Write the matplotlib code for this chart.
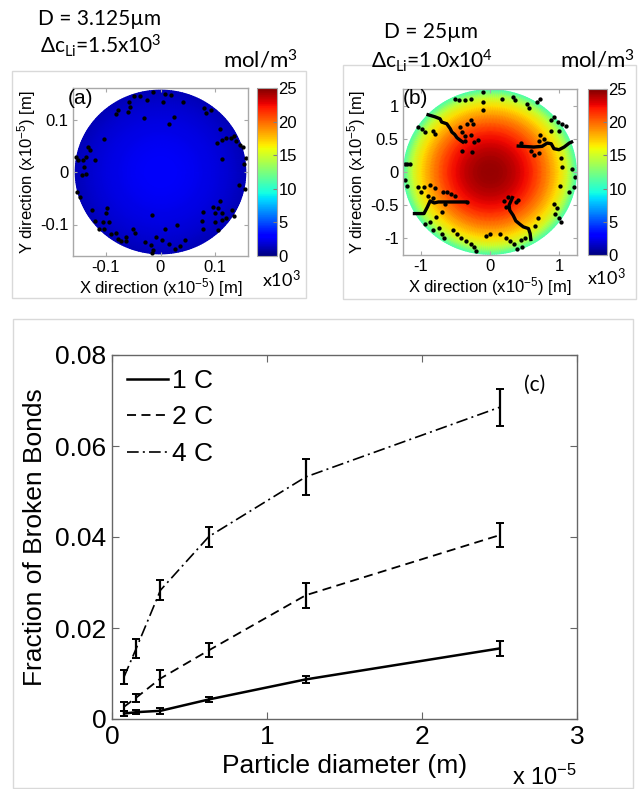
import numpy as np
import matplotlib
matplotlib.use("Agg")
import matplotlib.pyplot as plt
from matplotlib.patches import Rectangle

# ---------------- data ----------------
# (c) fraction of broken bonds vs particle diameter
diam_um = [0.78125, 1.5625, 3.125, 6.25, 12.5, 25.0]
frac_1c = [0.0012, 0.0015, 0.0018, 0.0043, 0.0087, 0.0155]
err_1c = [0.0006, 0.0005, 0.0007, 0.0006, 0.0007, 0.0016]
frac_2c = [0.0027, 0.0047, 0.0089, 0.0151, 0.0272, 0.0404]
err_2c = [0.0010, 0.0009, 0.0018, 0.0015, 0.0027, 0.0026]
frac_4c = [0.0093, 0.0155, 0.0283, 0.0401, 0.0532, 0.0685]
err_4c = [0.0015, 0.0020, 0.0022, 0.0022, 0.0040, 0.0041]
rate_labels = ["1 C", "2 C", "4 C"]

# (a)/(b) radial Li concentration profile (x10^3 mol/m^3)
r_frac = [0.0, 0.1, 0.2, 0.3, 0.4, 0.5, 0.6, 0.7, 0.8, 0.9, 1.0]
conc_a = [2.70, 2.68, 2.64, 2.56, 2.46, 2.33, 2.17, 1.98, 1.76, 1.52, 1.20]
conc_b = [24.5, 24.4, 24.0, 23.4, 22.5, 21.4, 20.1, 18.6, 16.8, 14.8, 11.0]
radius_a = 0.156   # x10^-5 m
radius_b = 1.25

# broken bond locations, panel (a)
bonds_a_x = [-0.049, -0.038, -0.025, -0.013, 0.009, 0.019, 0.041, -0.058, -0.056, -0.059,
             -0.078, -0.081, -0.031, 0.005, 0.025, 0.016, 0.079, 0.083, 0.092, 0.109,
             0.103, 0.113, 0.120, 0.128, 0.134, 0.138, 0.145, 0.151, 0.113, 0.156,
             0.153, 0.143, 0.155, 0.109, 0.096, 0.106, 0.100, 0.113, 0.131, 0.134,
             0.113, 0.100, 0.075, 0.078, 0.106, 0.077, 0.119, 0.031, 0.044, 0.036,
             0.009, -0.008, 0.003, 0.016, 0.026, -0.018, -0.013, -0.016, -0.029, -0.016,
             -0.097, -0.100, -0.094, -0.106, -0.119, -0.125, -0.113, -0.103, -0.091, -0.081,
             -0.078, -0.072, -0.063, -0.051, -0.047, -0.064, -0.154, -0.150, -0.141, -0.136,
             -0.128, -0.119, -0.103, -0.133, -0.139, -0.136, -0.144, -0.152, -0.147]
bonds_a_y = [0.144, 0.144, 0.137, 0.152, 0.149, 0.146, 0.134, 0.134, 0.124, 0.114,
             0.118, 0.111, 0.102, 0.134, 0.104, 0.092, 0.121, 0.112, 0.118, 0.081,
             0.056, 0.061, 0.064, 0.064, 0.069, 0.059, 0.052, 0.047, 0.025, 0.027,
             0.016, -0.025, -0.033, -0.056, -0.066, -0.069, -0.078, -0.078, -0.072, -0.084,
             -0.092, -0.096, -0.094, -0.108, -0.111, -0.077, -0.088, -0.100, -0.129, -0.141,
             -0.109, -0.123, -0.129, -0.138, -0.146, -0.139, -0.148, -0.154, -0.133, -0.081,
             -0.069, -0.078, -0.096, -0.096, -0.094, -0.073, -0.108, -0.109, -0.119, -0.116,
             -0.127, -0.131, -0.123, -0.109, -0.116, -0.131, 0.029, 0.022, 0.022, 0.029,
             0.041, 0.022, 0.063, 0.048, 0.009, -0.003, -0.006, -0.038, -0.048]

# broken bond locations, panel (b)
bonds_b_x = [-0.512, -0.443, -0.365, -0.281, -0.108, -0.108, -0.099, 0.177, 0.335, 0.360,
             0.542, 0.571, 0.680, 0.729, -1.044, -0.985, -0.946, -0.823, -0.798, -0.429,
             -0.330, -0.281, -0.246, -0.404, -0.355, -0.281, -0.355, -0.232, -0.167, -0.404,
             -0.266, 0.877, 0.926, 0.985, 1.049, 1.099, 0.877, 1.005, 0.729, 0.788,
             0.704, 0.443, 0.591, 0.640, 0.709, 1.025, 1.049, 1.182, 1.236, 1.212,
             1.148, 1.015, -1.231, -1.202, -1.163, -1.235, -1.202, -1.044, -0.995, -0.956,
             -0.872, -0.798, -0.897, -0.823, -0.675, -0.616, -0.571, -0.502, -0.330, -0.650,
             -0.700, -0.788, -0.872, -0.946, -0.823, -0.739, -0.690, -0.660, -0.542, -0.473,
             -0.414, -0.345, -0.276, -0.227, -0.197, -0.059, 0.000, 0.138, 0.236, 0.296,
             0.345, 0.394, 0.463, 0.443, 0.512, 0.926, 0.966, 0.936, 1.005, 1.034,
             0.655, 0.690, 0.197, 0.236, 0.266, 0.374, 0.404]
bonds_b_y = [1.106, 1.086, 1.086, 1.111, 1.212, 1.061, 0.934, 1.106, 1.136, 1.086,
             1.035, 0.975, 1.061, 1.111, 0.682, 0.652, 0.606, 0.621, 0.571, 0.682,
             0.732, 0.783, 0.722, 0.606, 0.540, 0.556, 0.470, 0.455, 0.490, 0.318,
             0.303, 0.783, 0.833, 0.753, 0.722, 0.692, 0.621, 0.621, 0.556, 0.505,
             0.470, 0.439, 0.318, 0.253, 0.288, 0.217, 0.076, 0.051, -0.076, -0.227,
             -0.303, -0.217, 0.126, 0.116, 0.126, -0.126, -0.207, -0.227, -0.303, -0.227,
             -0.202, -0.237, -0.359, -0.389, -0.303, -0.308, -0.338, -0.359, -0.455, -0.490,
             -0.611, -0.682, -0.758, -0.793, -0.884, -0.843, -0.944, -0.995, -0.884, -0.944,
             -0.995, -1.045, -1.096, -1.146, -1.197, -0.965, -0.934, -0.944, -0.995, -1.045,
             -1.096, -1.167, -1.136, -1.035, -0.995, -0.480, -0.540, -0.631, -0.692, -0.763,
             -0.813, -0.692, -0.439, -0.530, -0.379, -0.449, -0.419]

# connected cracks, panel (b)
crack1_x = [-0.897, -0.798, -0.724, -0.700, -0.626, -0.576, -0.552, -0.512, -0.478, -0.429, -0.394]
crack1_y = [0.869, 0.838, 0.808, 0.758, 0.732, 0.657, 0.606, 0.571, 0.520, 0.480, 0.455]
crack2_x = [0.409, 0.631, 0.754, 0.828, 0.887, 0.926, 1.000, 1.074, 1.148, 1.182]
crack2_y = [0.394, 0.379, 0.389, 0.439, 0.429, 0.354, 0.338, 0.379, 0.439, 0.455]
crack3_x = [-1.094, -0.956, -0.906, -0.867, -0.808, -0.749, -0.552, -0.355]
crack3_y = [-0.631, -0.631, -0.530, -0.439, -0.470, -0.455, -0.455, -0.455]
crack4_x = [0.325, 0.276, 0.286, 0.335, 0.374, 0.433, 0.483, 0.557, 0.581, 0.591]
crack4_y = [-0.389, -0.505, -0.581, -0.657, -0.742, -0.793, -0.833, -0.859, -0.934, -1.025]

# ---------------- style ----------------
plt.rcParams["font.family"] = ["Liberation Sans", "DejaVu Sans"]
plt.rcParams["mathtext.default"] = "regular"
plt.rcParams["axes.unicode_minus"] = False
ANN = ["Lato", "DejaVu Sans"]
W, H = 643, 789


def box(l, t, r, b):
    """pixel box -> figure fraction rect"""
    return [l / W, 1 - b / H, (r - l) / W, (b - t) / H]


def fx(x):
    return x / W


def fy(y):
    return 1 - y / H


fig = plt.figure(figsize=(W / 100, H / 100), dpi=100)

# light panel frames
for l, t, r, b in [(12, 71, 306, 298), (343, 65, 636, 299), (13, 319, 633, 788)]:
    x0, y0, w, h = box(l, t, r, b)
    fig.patches.append(Rectangle((x0, y0), w, h, transform=fig.transFigure,
                                 fill=False, edgecolor="#d9d9d9", linewidth=1))


def draw_disc(ax, radius, conc):
    r = np.array(r_frac) * radius
    th = np.linspace(0, 2 * np.pi, 241)
    R, T = np.meshgrid(r, th)
    C = np.tile(conc, (len(th), 1))
    return ax.pcolormesh(R * np.cos(T), R * np.sin(T), C, cmap="jet",
                         vmin=0, vmax=25, shading="gouraud")


def style_small(ax):
    for s in ax.spines.values():
        s.set_color("#a8a8a8")
        s.set_linewidth(1)
    ax.tick_params(direction="in", length=3, width=0.8, color="#a8a8a8",
                   top=True, right=True, labelsize=12, pad=3)
    ax.set_xlabel("X direction (x10$^{-5}$) [m]", fontsize=12, labelpad=1)
    ax.set_ylabel("Y direction (x10$^{-5}$) [m]", fontsize=12, labelpad=2)


def colorbar(mappable, rect):
    cax = fig.add_axes(rect)
    cb = fig.colorbar(mappable, cax=cax, ticks=[0, 5, 10, 15, 20, 25])
    cb.outline.set_edgecolor("#a8a8a8")
    cax.tick_params(labelsize=12, direction="in", length=3, color="#808080", pad=1)
    return cb


# ---- panel (a) ----
ax_a = fig.add_axes(box(73, 88, 248, 256))
m_a = draw_disc(ax_a, radius_a, conc_a)
ax_a.plot(bonds_a_x, bonds_a_y, "o", color="k", ms=3.1, mew=0)
ax_a.set_xlim(-0.16, 0.16)
ax_a.set_ylim(-0.16, 0.16)
ax_a.set_xticks([-0.1, 0, 0.1])
ax_a.set_xticklabels(["-0.1", "0", "0.1"])
ax_a.set_yticks([-0.1, 0, 0.1])
ax_a.set_yticklabels(["-0.1", "0", "0.1"])
style_small(ax_a)
colorbar(m_a, box(257, 88, 277, 256))

# ---- panel (b) ----
ax_b = fig.add_axes(box(403, 89, 577, 255))
m_b = draw_disc(ax_b, radius_b, conc_b)
for cx, cy in [(crack1_x, crack1_y), (crack2_x, crack2_y),
               (crack3_x, crack3_y), (crack4_x, crack4_y)]:
    ax_b.plot(cx, cy, "-", color="k", lw=2.4, solid_joinstyle="round")
ax_b.plot(bonds_b_x, bonds_b_y, "o", color="k", ms=3.1, mew=0)
ax_b.set_xlim(-1.26, 1.26)
ax_b.set_ylim(-1.26, 1.26)
ax_b.set_xticks([-1, 0, 1])
ax_b.set_xticklabels(["-1", "0", "1"])
ax_b.set_yticks([-1, -0.5, 0, 0.5, 1])
ax_b.set_yticklabels(["-1", "-0.5", "0", "0.5", "1"])
style_small(ax_b)
colorbar(m_b, box(588, 89, 607, 255))

# annotations of the top panels
fig.text(fx(100), fy(25), "D = 3.125µm", family=ANN, fontsize=15, ha="center", va="baseline")
fig.text(fx(101), fy(53), "Δc$_{Li}$=1.5x10$^{3}$", family=ANN, fontsize=15, ha="center", va="baseline")
fig.text(fx(223), fy(68), "mol/m$^{3}$", family=ANN, fontsize=16, ha="left", va="baseline")
fig.text(fx(262), fy(279), "x10$^{3}$", family=ANN, fontsize=13, ha="left", va="center")
fig.text(fx(68), fy(98), "(a)", fontsize=15, ha="left", va="center")

fig.text(fx(431), fy(38), "D = 25µm", family=ANN, fontsize=15, ha="center", va="baseline")
fig.text(fx(432), fy(68), "Δc$_{Li}$=1.0x10$^{4}$", family=ANN, fontsize=15, ha="center", va="baseline")
fig.text(fx(560), fy(68), "mol/m$^{3}$", family=ANN, fontsize=16, ha="left", va="baseline")
fig.text(fx(587), fy(277), "x10$^{3}$", family=ANN, fontsize=13, ha="left", va="center")
fig.text(fx(403), fy(98), "(b)", fontsize=15, ha="left", va="center")

# ---- panel (c) ----
ax_c = fig.add_axes(box(112, 355, 577, 719))
x_c = np.array(diam_um) / 10.0   # in units of 1e-5 m
styles = [("-", 1.8, frac_1c, err_1c), ((0, (5, 3)), 1.3, frac_2c, err_2c),
          ((0, (7, 2.5, 1.2, 2.5)), 1.2, frac_4c, err_4c)]
handles = []
for (ls, lw, yv, ev), lab in zip(styles, rate_labels):
    ln, = ax_c.plot(x_c, yv, linestyle=ls, color="k", lw=lw, label=lab)
    ax_c.errorbar(x_c, yv, yerr=ev, fmt="none", ecolor="k", elinewidth=1.6,
                  capsize=3.2, capthick=1.4)
    handles.append(ln)

ax_c.set_xlim(0, 3)
ax_c.set_ylim(0, 0.08)
ax_c.set_xticks([0, 1, 2, 3])
ax_c.set_xticklabels(["0", "1", "2", "3"])
ax_c.set_yticks([0, 0.02, 0.04, 0.06, 0.08])
ax_c.set_yticklabels(["0", "0.02", "0.04", "0.06", "0.08"])
for s in ax_c.spines.values():
    s.set_color("#666666")
    s.set_linewidth(1)
ax_c.tick_params(direction="in", length=5, width=0.8, color="#666666",
                 top=True, right=True, labelsize=19, pad=4)
ax_c.set_xlabel("Particle diameter (m)", fontsize=19, labelpad=4)
ax_c.set_ylabel("Fraction of Broken Bonds", fontsize=19, labelpad=6)
ax_c.text(1.0, -0.16, "x 10$^{-5}$", transform=ax_c.transAxes, fontsize=17,
          ha="right", va="center")
fig.text(fx(535), fy(385), "(c)", family=ANN, fontsize=15, ha="center", va="center")

ax_c.legend(handles=handles, loc="upper left", bbox_to_anchor=(0.033, 0.962),
            frameon=False, fontsize=19, handlelength=1.55, handletextpad=0.15,
            labelspacing=0.48, borderpad=0, borderaxespad=0)

fig.savefig("out.png", dpi=100)
